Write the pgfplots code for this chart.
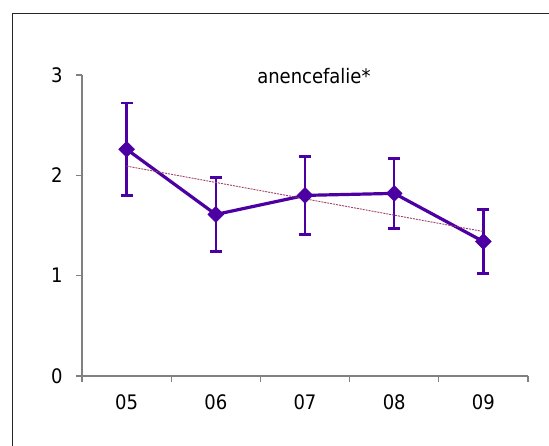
\documentclass[border=0pt]{standalone}
\usepackage{fontspec}
\setmainfont{DejaVu Sans Condensed}
\usepackage{pgfplots}
\pgfplotsset{compat=1.18}
\definecolor{mainc}{HTML}{4C00A4}
\definecolor{trendc}{HTML}{A0406A}
\definecolor{axc}{HTML}{808080}
\begin{document}
\begin{tikzpicture}
\useasboundingbox (0,0) rectangle (549pt,446pt);
\draw[line width=1pt, black!85] (12.5pt,0) -- (12.5pt,432pt) -- (549pt,432pt);
\begin{axis}[
  at={(82pt,70pt)}, anchor=south west,
  scale only axis, width=446pt, height=301pt,
  xmin=-0.5, xmax=4.5, ymin=0, ymax=3,
  axis x line=bottom, axis y line=left,
  axis line style={draw=axc, line width=1.3pt, -},
  tick align=outside,
  major tick length=6pt, minor tick length=6pt,
  xtick={0,1,2,3,4}, xticklabels={05,06,07,08,09},
  major x tick style={draw=none},
  minor xtick={-0.5,0.5,1.5,2.5,3.5,4.5},
  minor x tick style={draw=axc, line width=1.3pt},
  ytick={0,1,2,3},
  ytick style={draw=axc, line width=1.3pt},
  tick label style={font=\fontsize{20}{24}\selectfont},
  x tick label style={yshift=-9pt},
  y tick label style={xshift=-10pt},
  /pgf/number format/assume math mode=true,
  clip=false,
]
\addplot[color=mainc, line width=3.2pt, mark=square*, mark size=5.6pt,
  mark options={rotate=45, solid, line width=0.5pt, fill=mainc},
  error bars/.cd, y dir=both, y explicit,
  error bar style={line width=2.5pt, color=mainc},
  error mark options={rotate=90, mark size=6pt, line width=2.5pt, color=mainc}]
  coordinates {
  (0,2.26) +- (0,0.46)
  (1,1.61) +- (0,0.37)
  (2,1.80) +- (0,0.39)
  (3,1.82) +- (0,0.35)
  (4,1.34) +- (0,0.32)
  };
\addplot[color=trendc, line width=0.9pt, dash pattern=on 2pt off 1pt, mark=none]
  coordinates {(0,2.092) (4,1.44)};
\node[font=\fontsize{20}{24}\selectfont] at (axis cs:2.1,2.99) {anencefalie*};
\end{axis}
\end{tikzpicture}
\end{document}
